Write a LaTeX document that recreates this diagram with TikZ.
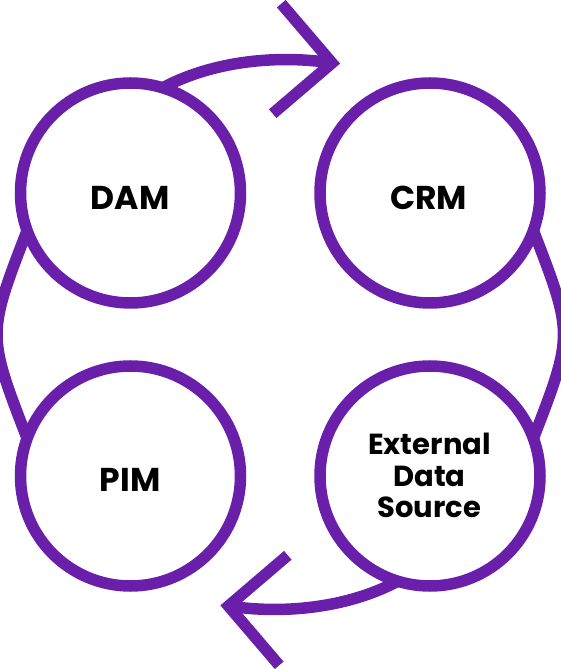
\documentclass[tikz,border=0pt]{standalone}
\usepackage{fontspec}
\setmainfont{Poppins}
\definecolor{vio}{HTML}{6A1FAA}
\begin{document}
\begin{tikzpicture}[x=1pt,y=1pt,
  ring/.style={circle, draw=vio, line width=11.5pt, minimum size=220pt, inner sep=0pt, outer sep=0pt},
  link/.style={draw=vio, line width=11.5pt},
  chev/.style={draw=vio, line width=11.5pt, line join=miter, miter limit=4},
  big/.style={font=\bfseries\fontsize{33}{33}\selectfont, text=black, anchor=base, inner sep=0pt},
  small/.style={font=\bfseries\fontsize{29}{31.5}\selectfont, text=black, align=center, inner sep=0pt}]
\useasboundingbox (0,0) rectangle (560,669);
\node[ring] (dam) at (130.5,476) {};
\node[ring] (crm) at (430,476) {};
\node[ring] (pim) at (130.5,193) {};
\node[ring] (ext) at (430,193) {};
% side arcs
\draw[link] (dam.200) .. controls (-13,334.5) .. (pim.160);
\draw[link] (crm.340) .. controls (573.5,334.5) .. (ext.20);
% top arrow
\coordinate (tipA) at (332,606);
\coordinate (barbA1) at (281.3,665.3);
\coordinate (barbA2) at (272.7,555.3);
\draw[link] (dam.73.5) .. controls (215,609) and (280,614) .. (tipA);
\draw[chev] (barbA1) -- (tipA) -- (barbA2);
% bottom arrow
\coordinate (tipB) at (228.5,63);
\coordinate (barbB1) at (279.2,3.7);
\coordinate (barbB2) at (287.8,113.7);
\draw[link] (ext.253.5) .. controls (345.5,60) and (280.5,55) .. (tipB);
\draw[chev] (barbB1) -- (tipB) -- (barbB2);
% labels
\node[big] (damt) at (130,459.7) {DAM};
\node[big] (crmt) at (428.7,459.7) {CRM};
\node[big] (pimt) at (130,177.3) {PIM};
\node[small, anchor=base] (extt) at (429.5,151) {External\\Data\\Source};
\end{tikzpicture}
\end{document}
